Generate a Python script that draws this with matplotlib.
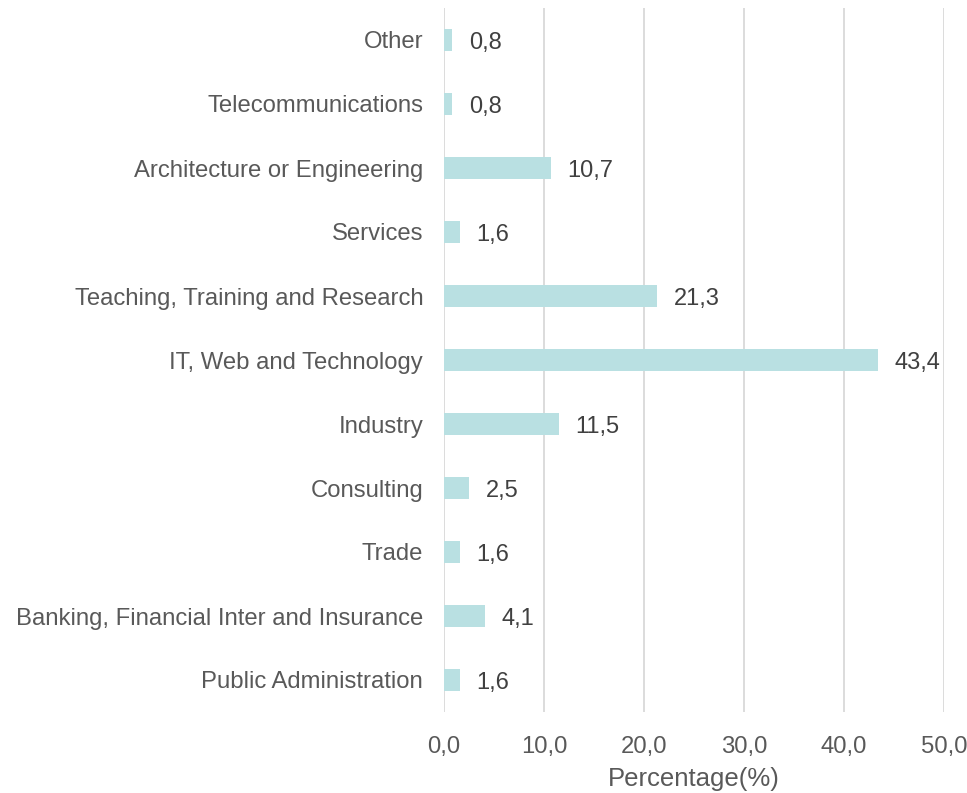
import matplotlib.pyplot as plt

plt.rcParams["font.family"] = ["Liberation Sans", "DejaVu Sans"]

categories = [
    "Public Administration",
    "Banking, Financial Inter and Insurance",
    "Trade",
    "Consulting",
    "Industry",
    "IT, Web and Technology",
    "Teaching, Training and Research",
    "Services",
    "Architecture or Engineering",
    "Telecommunications",
    "Other",
]
values = [1.6, 4.1, 1.6, 2.5, 11.5, 43.4, 21.3, 1.6, 10.7, 0.8, 0.8]
xticks = [0, 10, 20, 30, 40, 50]

text_color = "#595959"
bar_color = "#b9e0e2"

fig = plt.figure(figsize=(9.67, 7.93), dpi=100)
ax = fig.add_axes([444 / 967, 1 - 712 / 793, 500 / 967, 704 / 793])

ypos = range(len(categories))
ax.barh(ypos, values, height=0.34, color=bar_color, zorder=3)
for y, v in zip(ypos, values):
    ax.annotate(f"{v:.1f}".replace(".", ","), (v, y), xytext=(12, -2),
                textcoords="offset points", va="center", ha="left",
                fontsize=17, color="#404040")

ax.set_xlim(0, 50)
ax.set_ylim(-0.5, len(categories) - 0.5)
ax.set_xticks(xticks)
ax.set_xticklabels([f"{t:.1f}".replace(".", ",") for t in xticks])
ax.set_yticks(list(ypos))
ax.set_yticklabels(categories)
ax.tick_params(axis="both", length=0, labelsize=17.2, labelcolor=text_color)
ax.tick_params(axis="y", pad=15)
ax.tick_params(axis="x", pad=17)
ax.grid(axis="x", color="#d9d9d9", linewidth=1.3, zorder=0)
for s in ax.spines.values():
    s.set_visible(False)
ax.set_xlabel("Percentage(%)", fontsize=18.5, color=text_color, labelpad=7)

fig.savefig("out.png", dpi=100)
